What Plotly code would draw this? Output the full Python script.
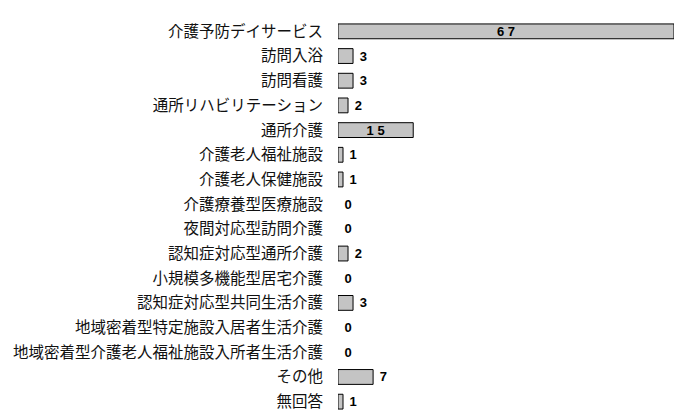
import plotly.graph_objects as go

# categories (top to bottom) and counts
categories = [
    "介護予防デイサービス", "訪問入浴", "訪問看護", "通所リハビリテーション",
    "通所介護", "介護老人福祉施設", "介護老人保健施設", "介護療養型医療施設",
    "夜間対応型訪問介護", "認知症対応型通所介護", "小規模多機能型居宅介護",
    "認知症対応型共同生活介護", "地域密着型特定施設入居者生活介護",
    "地域密着型介護老人福祉施設入所者生活介護", "その他", "無回答",
]
counts = [67, 3, 3, 2, 15, 1, 1, 0, 0, 2, 0, 3, 0, 0, 7, 1]

labels = [" ".join(str(v)) if v >= 10 else " " + str(v) for v in counts]
positions = ["inside" if v >= 10 else "outside" for v in counts]
line_widths = [1 if v > 0 else 0 for v in counts]

fig = go.Figure(go.Bar(
    y=categories, x=counts, orientation="h",
    marker=dict(color="#c4c4c4", line=dict(color="#000000", width=line_widths)),
    text=labels, textposition=positions,
    insidetextanchor="middle", constraintext="none",
    textfont=dict(family="Liberation Sans", size=13, color="#000000", weight="bold"),
    cliponaxis=False,
))

# page adds 8px body margin, so margins are shifted to match
fig.update_layout(
    width=692, height=420,
    margin=dict(l=330, r=26, t=11, b=14, autoexpand=False),
    plot_bgcolor="white", paper_bgcolor="white",
    bargap=0.4, showlegend=False,
)
fig.update_xaxes(range=[0, 67], visible=False)
fig.update_yaxes(autorange="reversed", showline=False, showgrid=False,
                 ticks="", ticklabelstandoff=14, automargin=False,
                 tickfont=dict(family="Noto Sans CJK JP", size=15.5, color="#111111"))

fig.write_html("out.html")
